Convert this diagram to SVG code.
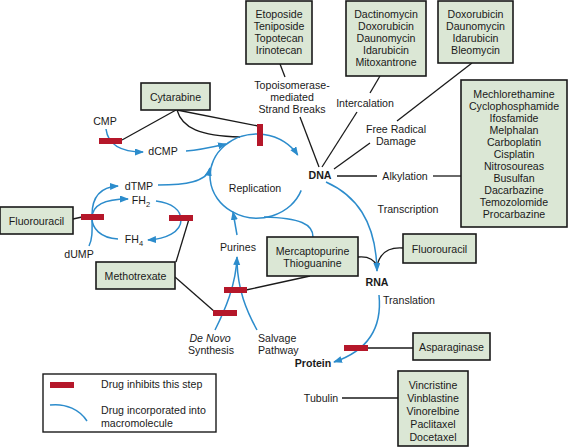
<svg xmlns="http://www.w3.org/2000/svg" width="569" height="447" viewBox="0 0 569 447">
<style>
text{font-family:"Liberation Sans",Arial,sans-serif;font-size:10.6px;fill:#1a1a1a}
.c{text-anchor:middle}
.b{font-weight:bold}
.box{fill:#dbe7d5;stroke:#1a1a1a;stroke-width:1.6}
.bar{fill:#b5172a}
.k{fill:none;stroke:#1a1a1a;stroke-width:1.3}
.u{fill:none;stroke:#2c8ccc;stroke-width:1.5}
.ua{fill:none;stroke:#2c8ccc;stroke-width:1.5;marker-end:url(#ah)}
</style>
<defs>
<marker id="ah" markerUnits="userSpaceOnUse" markerWidth="10" markerHeight="8" refX="8" refY="3.5" orient="auto">
<path d="M0,0 L9,3.5 L0,7 z" fill="#2c8ccc"/>
</marker>
</defs>
<rect width="569" height="447" fill="#fff"/>

<g id="connectors">
<!-- black -->
<path class="k" d="M280,64 L285,77"/>
<path class="k" d="M300,117 L319,167"/>
<path class="k" d="M380,76 L370,93"/>
<path class="k" d="M357,112 L322,167"/>
<path class="k" d="M472,63 L397,121"/>
<path class="k" d="M370,143 L334,169"/>
<path class="k" d="M337,176 L377,176"/>
<path class="k" d="M433,176 L461,176"/>
<path class="k" d="M176,110 L122,140"/>
<path class="k" d="M177,110 L258,126"/>
<path class="k" d="M177,110 C182,128 200,136 240,137"/>
<path class="k" d="M73,219 L82,217"/>
<path class="k" d="M189,219 L176,262"/>
<path class="k" d="M175,277 L215,312"/>
<path class="k" d="M246,290 L310,276"/>
<path class="k" d="M358,257 C368,256 374,259 377,266"/>
<path class="k" d="M403,248 C390,247 380,252 377,266"/>
<path class="k" d="M368,348 L413,348"/>
<path class="k" d="M342,398 L398,398"/>
<!-- blue -->
<path class="ua" d="M301.2,190.4 A47,42 0 1 1 297.7,155"/>
<path class="ua" d="M106,129 C108,145 122,152 143,152"/>
<path class="ua" d="M186,151 C200,150 213,147 226,144"/>
<path class="ua" d="M158,185 C185,185 207,182 210,168"/>
<path class="ua" d="M89,246 C93,238 92,228 92,215 C92,198 100,187 118,186"/>
<path class="ua" d="M118,239 C100,238 92,228 92,218 C92,206 104,199 128,199"/>
<path class="ua" d="M156,201 C172,203 181,210 181,220 C181,232 166,239 148,240"/>
<path class="ua" d="M215,330 C225,310 236,285 237,257"/>
<path class="u" d="M257,330 C246,310 238,290 237,262"/>
<path class="ua" d="M237,235 L233,212"/>
<path class="u" d="M313,237 C313,224 300,218 264,217"/>
<path class="ua" d="M326,182 C355,195 376,220 377,271"/>
<path class="ua" d="M379,295 C382,325 370,350 334,362"/>
</g>

<g id="inhibition-bars">
<rect class="bar" x="99" y="138" width="23" height="6"/>
<rect class="bar" x="257" y="124" width="6" height="22"/>
<rect class="bar" x="81" y="214" width="23" height="6"/>
<rect class="bar" x="169" y="215" width="24" height="6"/>
<rect class="bar" x="224" y="287" width="23" height="6"/>
<rect class="bar" x="213" y="310" width="24" height="6"/>
<rect class="bar" x="344" y="345" width="24" height="6"/>
</g>

<g id="topo-drugs">
<rect class="box" x="246" y="1" width="66" height="63"/>
<text class="c" x="279" y="18">Etoposide</text>
<text class="c" x="279" y="30">Teniposide</text>
<text class="c" x="279" y="42">Topotecan</text>
<text class="c" x="279" y="54">Irinotecan</text>
</g>
<g id="intercalators">
<rect class="box" x="346" y="1" width="80" height="75"/>
<text class="c" x="386" y="18">Dactinomycin</text>
<text class="c" x="386" y="30">Doxorubicin</text>
<text class="c" x="386" y="42">Daunomycin</text>
<text class="c" x="386" y="54">Idarubicin</text>
<text class="c" x="386" y="66">Mitoxantrone</text>
</g>
<g id="radical-drugs">
<rect class="box" x="438" y="1" width="75" height="62"/>
<text class="c" x="475.5" y="18">Doxorubicin</text>
<text class="c" x="475.5" y="30">Daunomycin</text>
<text class="c" x="475.5" y="42">Idarubicin</text>
<text class="c" x="475.5" y="54">Bleomycin</text>
</g>
<g id="alkylators">
<rect class="box" x="461" y="80" width="106" height="147"/>
<text class="c" x="514" y="98">Mechlorethamine</text>
<text class="c" x="514" y="110">Cyclophosphamide</text>
<text class="c" x="514" y="122">Ifosfamide</text>
<text class="c" x="514" y="134">Melphalan</text>
<text class="c" x="514" y="146">Carboplatin</text>
<text class="c" x="514" y="158">Cisplatin</text>
<text class="c" x="514" y="170">Nitrosoureas</text>
<text class="c" x="514" y="182">Busulfan</text>
<text class="c" x="514" y="194">Dacarbazine</text>
<text class="c" x="514" y="206">Temozolomide</text>
<text class="c" x="514" y="218">Procarbazine</text>
</g>
<g id="cytarabine">
<rect class="box" x="141" y="83" width="69" height="27"/>
<text class="c" x="175.5" y="101">Cytarabine</text>
</g>
<g id="fluorouracil-left">
<rect class="box" x="0" y="207" width="73" height="27"/>
<text class="c" x="36.5" y="225">Fluorouracil</text>
</g>
<g id="methotrexate">
<rect class="box" x="96" y="262" width="79" height="27"/>
<text class="c" x="135.5" y="280">Methotrexate</text>
</g>
<g id="mercaptopurine">
<rect class="box" x="267" y="237" width="91" height="39"/>
<text class="c" x="312.5" y="255">Mercaptopurine</text>
<text class="c" x="312.5" y="267">Thioguanine</text>
</g>
<g id="fluorouracil-right">
<rect class="box" x="403" y="234" width="73" height="29"/>
<text class="c" x="439.5" y="253">Fluorouracil</text>
</g>
<g id="asparaginase">
<rect class="box" x="413" y="333" width="77" height="27"/>
<text class="c" x="451.5" y="351">Asparaginase</text>
</g>
<g id="tubulin-drugs">
<rect class="box" x="398" y="371" width="70" height="75"/>
<text class="c" x="433" y="389">Vincristine</text>
<text class="c" x="433" y="402">Vinblastine</text>
<text class="c" x="433" y="415">Vinorelbine</text>
<text class="c" x="433" y="428">Paclitaxel</text>
<text class="c" x="433" y="441">Docetaxel</text>
</g>

<g id="labels">
<text class="c" x="105" y="125">CMP</text>
<text class="c" x="163" y="155">dCMP</text>
<text class="c" x="139" y="190">dTMP</text>
<text class="c" x="141" y="204">FH<tspan font-size="7.5" dy="3">2</tspan></text>
<text class="c" x="134" y="243">FH<tspan font-size="7.5" dy="3">4</tspan></text>
<text class="c" x="79" y="258">dUMP</text>
<text class="c" x="255" y="192">Replication</text>
<text class="c" x="238" y="251">Purines</text>
<text class="c" x="210" y="342" font-style="italic">De Novo</text>
<text class="c" x="211" y="354">Synthesis</text>
<text x="258" y="342">Salvage</text>
<text x="258" y="354">Pathway</text>
<text class="c" x="292" y="89">Topoisomerase-</text>
<text class="c" x="292" y="101">mediated</text>
<text class="c" x="292" y="113">Strand Breaks</text>
<text class="c" x="365" y="107">Intercalation</text>
<text class="c" x="396" y="133">Free Radical</text>
<text class="c" x="396" y="145">Damage</text>
<text class="c b" x="320" y="179">DNA</text>
<text class="c" x="405" y="180">Alkylation</text>
<text class="c" x="408" y="213">Transcription</text>
<text class="c b" x="377" y="286">RNA</text>
<text x="383" y="304">Translation</text>
<text class="c b" x="313" y="367">Protein</text>
<text class="c" x="321" y="402">Tubulin</text>
</g>

<g id="legend">
<rect x="43" y="374" width="173" height="58" fill="#fff" stroke="#1a1a1a" stroke-width="1.4"/>
<rect class="bar" x="50" y="382" width="24" height="6"/>
<path class="u" d="M50,405 C66,403 80,410 87,421"/>
<text x="101" y="388">Drug inhibits this step</text>
<text x="101" y="414">Drug incorporated into</text>
<text x="101" y="427">macromolecule</text>
</g>
</svg>
